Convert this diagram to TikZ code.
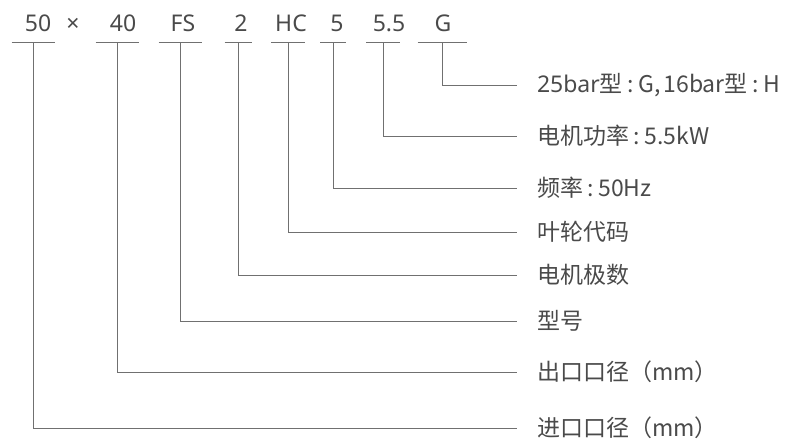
\documentclass[tikz,border=0pt]{standalone}
\usepackage{fontspec}
\setmainfont{Noto Sans}
\newfontfamily\cjk{Noto Sans CJK SC}
\usetikzlibrary{calc}
\definecolor{txtgray}{HTML}{4A4A4A}
\definecolor{linegray}{HTML}{707070}
\newcommand{\colsep}{\hspace{5pt}:\hspace{4pt}}

\begin{document}
\begin{tikzpicture}[x=1pt,y=-1pt,
    codepart/.style={anchor=base, text=txtgray, inner sep=0pt, font=\fontsize{23}{27}\selectfont},
    desc/.style={anchor=west, text=txtgray, inner xsep=10pt, outer xsep=10pt, inner ysep=0pt, font=\fontsize{23}{27}\selectfont},
    lead/.style={linegray, line width=1pt}]
    \useasboundingbox (0,0) rectangle (792,444);

    % top row of the code
    \node[codepart] (c50) at (38,32) {50};
    \node[codepart] (cx)  at (73,32) {×};
    \node[codepart] (c40) at (123,32) {40};
    \node[codepart] (cfs) at (183,32) {FS};
    \node[codepart] (c2)  at (241,32) {2};
    \node[codepart] (chc) at (291,32) {HC};
    \node[codepart] (c5)  at (337,32) {5};
    \node[codepart] (c55) at (389,32) {5.5};
    \node[codepart] (cg)  at (443,32) {G};

    % bars, leads and meanings
    \foreach \n/\x/\w/\y/\txt in {
        1/33/21.5/428/{\cjk{进口口径（}mm\cjk{）}},
        2/117/21.5/372/{\cjk{出口口径（}mm\cjk{）}},
        3/180/21.5/321/{\cjk{型号}},
        4/238/13.5/275/{\cjk{电机极数}},
        5/288/17/232/{\cjk{叶轮代码}},
        6/333/13/188/{\cjk{频率}\colsep 50Hz},
        7/383/17/136/{\cjk{电机功率}\colsep 5.5kW},
        8/442/24.5/85/{25bar\cjk{型}\colsep G,\hspace{3pt}16bar\cjk{型}\colsep H}}{
        \coordinate (b\n) at (\x,43);
        \node[desc] (d\n) at (517,\y) {\txt};
        \draw[lead] ($(b\n)+(-\w,0)$) -- ($(b\n)+(\w,0)$);
        \draw[lead] (b\n) |- (d\n.west);
    }
\end{tikzpicture}
\end{document}
